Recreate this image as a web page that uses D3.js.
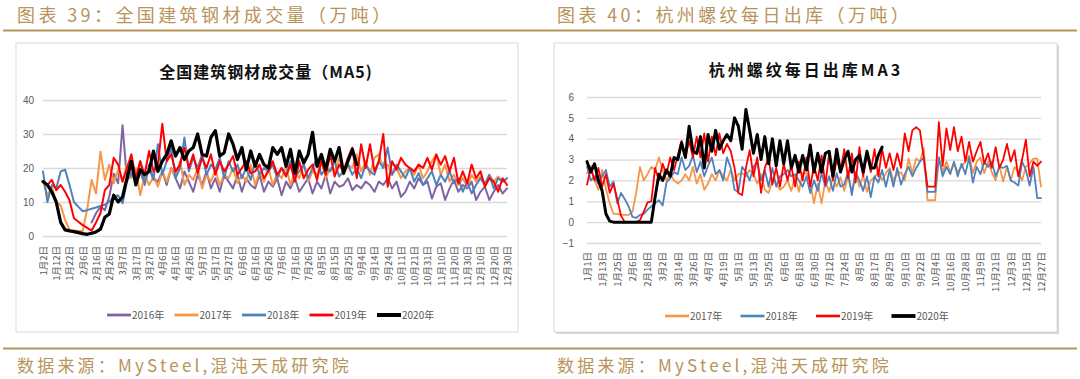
<!DOCTYPE html>
<html>
<head>
<meta charset="utf-8">
<script src="https://cdnjs.cloudflare.com/ajax/libs/d3/7.8.5/d3.min.js"></script>
<style>
  body { margin: 0; background: #fff; }
  svg text { font-family: "Noto Sans CJK SC", "Liberation Sans", sans-serif; }
</style>
</head>
<body>
<svg id="chart" width="1080" height="379"></svg>
<script>
// ---------- data: left chart (全国建筑钢材成交量 MA5), 3 points per label step ----------
var leftLabels = ["1月2日","1月12日","1月22日","2月6日","2月16日","2月26日","3月7日","3月17日","3月27日",
  "4月6日","4月16日","4月26日","5月7日","5月17日","5月27日","6月6日","6月16日","6月26日","7月6日",
  "7月16日","7月26日","8月5日","8月15日","8月25日","9月4日","9月14日","9月24日","10月11日","10月21日",
  "10月31日","11月10日","11月20日","11月30日","12月10日","12月20日","12月30日"];
var leftTicks = [0, 10, 20, 30, 40];

var left2016 = [null,null,null,null,null,null,null,null,null,null,
  null,4,6.7,8.6,7.6,11.6,18.4,15.5,32.6,16.5,
  20,17,19,15,21,17,16,19,15,20,
  17,14,19,16,13,18,15,19,14,17,
  13,18,16,14,18,13,17,15,14,18,
  13,16,14.5,17,12,16,14,17,13,15,
  17,12.5,16,14,18,12.5,16,14.5,15,17,
  13.5,15,14,16,15,13,16,15,17,14,
  16,11.5,13,16,14,17,15,16,11,14.5,
  15.5,10.6,14,16.5,13,15,14,16,10.6,13,
  14.5,10.6,13,15,12.5,14];
var left2017 = [16,12,14.5,10,9,4.7,1.8,1.6,1.5,1.5,
  8,16.5,12.5,24.8,16.5,21,15.5,19.5,16,21,
  17,20,12,18,15,17.5,14.5,19,16,20,
  17,22,15,18,16.5,20,14,18,16,19.5,
  15,18,17,20,15.5,18,16,21,15,19,
  16,20,15,18.5,17,20.5,15,19,17,21,
  16,19,18,22,17,20,19,23,18,21,
  20,24,19,22,18,23,24,20,21,18,
  20,17,19,20,18,21,17,19,22,24,
  18,21,16,18,15,17,14.5,18,16,17.5,
  15.5,18,16,17.5,16,17];
var left2018 = [19,10,15,14,19,19.5,15,10,8.6,7.3,
  7.6,8,8.4,8.8,9.2,10,11.5,12,9.6,16,
  18.5,16,22,15.5,20,16.5,27,18,22,26,
  17,20,29,19,23,20,24,18,21,19.5,
  23,17,22,19,21,17,20,16.5,22,18,
  20,19,21,17,20,18,22,17.5,19,21,
  17,20,23,18,20,19,22,17.5,19,21,
  18,20,17,21,19,18,22,20,26,18,
  21,19,17,20,16,18.5,15,17,19,15,
  18,16,19,15.5,17,13,16,12.5,15,17,
  15,18,14,17,16,17];
var left2019 = [16,15,16.5,13.5,15,13,10.5,5.2,4.2,3.2,
  2.4,1.6,4,6.7,13.5,15,23,21,16,20,
  24,17,22,18,25,19,21,33,22,24,
  19,21,26,20,24,18.5,23,20,24,18,
  22,19,21,23.5,18,20,22,18.5,19,21,
  17,19,22,18,20,17.5,21,16,22,17,
  19.5,21,16.5,22,18,24,17.5,21,19,23,
  26,17,27,20,27,19,22,30,14.5,22,
  19.5,23,21,20,19,21,20,23,19.5,24,
  21,23.5,19,23,15.5,19,15.5,21,17,19,
  14.5,17,16,13,17,15];
var left2020 = [16,15,13,10,4,1.8,1.5,1.3,1,0.7,
  0.5,0.8,1.2,2,5.5,6.5,12,10,11.5,17,
  22,15,19.5,18,19,25,19,22,24,28,
  23.5,26,22.5,25,26,30,24,23.5,29,31,
  23.5,24.5,30,27,22.5,26,19.5,25,20.5,24,
  21,20,26,24,26,20.5,25.5,18.5,25,21.5,
  24,30.5,20.5,24,19.5,25.5,22,26,18.5,22,
  25.5,21];

// ---------- data: right chart (杭州螺纹每日出库 MA3), 4 points per label step ----------
var rightLabels = ["1月1日","1月13日","1月25日","2月6日","2月18日","3月2日","3月14日","3月26日",
  "4月7日","4月19日","5月1日","5月13日","5月25日","6月6日","6月18日","6月30日","7月12日","7月24日",
  "8月5日","8月17日","8月29日","9月10日","9月22日","10月4日","10月16日","10月28日","11月9日",
  "11月21日","12月3日","12月15日","12月27日"];
var rightTicks = [-1, 0, 1, 2, 3, 4, 5, 6];

var right2017 = [2.35,2.7,2.0,1.55,2.5,1.6,0.9,0.4,0.4,0.35,
  0.35,0.35,0.5,1.4,2.65,2.0,2.3,2.65,2.5,3.1,
  2.5,2.0,2.3,2.0,1.85,2.0,2.3,2.0,2.65,1.85,
  2.3,1.55,1.85,2.3,2.0,2.5,2.2,2.0,2.5,2.0,
  2.3,2.35,2.2,2.5,2.3,1.85,2.3,1.55,1.4,2.0,
  1.85,1.55,1.7,2.0,1.5,2.2,1.45,2.35,2.35,1.9,
  0.9,1.85,0.9,2.0,1.45,2.15,1.7,2.15,1.5,2.2,
  1.4,2.4,1.7,2.25,1.45,2.0,2.15,2.4,2.0,2.35,
  2.6,2.0,2.3,2.4,2.0,3.05,2.35,3.05,2.9,3.55,
  1.05,1.05,1.05,3.1,2.4,2.9,2.4,2.8,2.4,2.65,
  2.9,3.2,2.35,2.9,3.1,2.35,2.9,2.4,2.0,2.7,
  1.95,2.65,2.0,2.65,2.4,2.0,2.65,2.8,3.05,3.05,
  1.7];
var right2018 = [2.65,2.0,2.2,1.85,2.2,2.5,1.7,1.95,0.9,1.4,
  1.1,0.75,0.25,0.2,0.35,0.4,0.6,0.75,0.9,1.05,
  0.8,1.9,2.1,2.4,2.3,3.1,2.5,2.7,3.2,2.4,
  2.9,2.2,2.7,3.1,2.3,2.5,2.0,3.1,2.6,1.55,
  1.45,2.65,2.4,2.0,2.65,2.9,2.0,2.5,1.7,2.6,
  1.7,2.2,2.3,2.5,2.2,2.3,2.0,1.7,2.2,1.4,
  2.0,1.5,2.35,1.7,2.2,1.5,2.35,1.7,1.8,2.4,
  1.3,2.4,2.0,1.5,2.2,1.2,2.2,1.9,2.5,1.7,
  2.5,1.7,2.6,1.8,2.3,2.65,2.2,2.6,2.9,3.1,
  1.45,1.45,1.45,3.1,2.2,2.65,2.3,2.9,2.2,2.8,
  2.3,3.1,1.9,2.65,2.3,2.9,2.65,2.9,2.2,2.65,
  2.6,2.7,2.0,1.9,1.75,2.9,2.5,1.75,2.65,1.15,
  1.15];
var right2019 = [1.8,2.6,2.0,2.6,1.7,2.3,1.4,1.85,1.1,0.3,
  0,0,0,0,0.1,0.5,0.95,1.0,2.6,2.0,
  2.8,2.3,3.1,2.5,3.2,3.9,3.1,3.9,3.1,4.1,
  3.1,4.25,2.9,4.1,3.2,4.25,3.3,3.75,3.4,2.6,
  1.4,1.3,2.6,3.45,2.2,3.1,1.4,2.6,3.1,1.8,
  2.6,1.7,2.8,2.0,2.7,1.7,2.9,2.0,3.1,1.7,
  2.7,2.0,3.2,1.8,3.3,2.0,3.0,2.4,3.5,2.1,
  3.3,1.9,3.6,2.2,3.3,2.4,3.5,2.2,3.5,2.6,
  3.3,2.5,3.3,2.6,4.25,3.4,4.4,4.55,4.4,3.1,
  1.7,1.7,1.7,4.8,2.7,4.5,3.45,4.55,3.4,4.1,
  2.9,3.85,2.9,3.4,3.85,2.8,3.3,2.6,3.6,2.6,
  3.0,3.75,2.9,3.45,2.2,3.0,3.95,2.2,2.9,2.7,
  2.9];
var right2020 = [2.9,2.4,2.8,2.0,1.5,0.4,0.05,0,0,0,
  0,0,0,0,0,0,0,0,1.2,2.3,
  2.0,2.5,2.2,3.1,3.0,3.8,3.1,4.6,3.4,3.3,
  4.1,2.6,4.2,3.4,4.4,3.5,3.9,4.2,3.9,5.0,
  4.6,3.5,5.4,4.4,3.3,4.2,3.0,4.1,2.8,4.0,
  2.7,3.9,2.8,3.9,2.6,3.2,2.4,3.2,2.5,3.7,
  2.4,3.3,2.4,3.3,3.4,2.2,3.5,2.4,3.0,3.4,
  2.4,3.0,3.2,2.4,3.4,2.6,2.6,3.2,3.6];

var GOLD = "#b8935a";
var AXIS_TEXT = "#595959";
var GRID = "#d9d9d9";

var svg = d3.select("#chart");

// page frame: captions, gold rules, sources
svg.append("line").attr("x1", 3).attr("x2", 1077).attr("y1", 30.5).attr("y2", 30.5)
   .attr("stroke", GOLD).attr("stroke-width", 2);
svg.append("line").attr("x1", 3).attr("x2", 1077).attr("y1", 348.5).attr("y2", 348.5)
   .attr("stroke", GOLD).attr("stroke-width", 2);

[{x: 17, t: "图表 39：全国建筑钢材成交量（万吨）"}, {x: 557, t: "图表 40：杭州螺纹每日出库（万吨）"}]
  .forEach(function(h){
    svg.append("text").attr("x", h.x).attr("y", 22)
       .attr("fill", GOLD).style("font-size", "18px").style("letter-spacing", "3.4px")
       .text(h.t);
  });
[17, 557].forEach(function(x){
  svg.append("text").attr("x", x).attr("y", 372)
     .attr("fill", GOLD).style("font-size", "17px").style("letter-spacing", "3.2px")
     .text("数据来源：MySteel,混沌天成研究院");
});

/**
 * Draws one line chart panel with its frame, title, grid, axes and legend.
 */
function drawPanel(cfg){
  var g = svg.append("g");

  if (cfg.shadow){
    g.append("rect").attr("x", cfg.box[0] + 2).attr("y", cfg.box[1] + 2)
     .attr("width", cfg.box[2] - cfg.box[0]).attr("height", cfg.box[3] - cfg.box[1])
     .attr("fill", "#d6d6d6");
  }
  g.append("rect").attr("x", cfg.box[0]).attr("y", cfg.box[1])
   .attr("width", cfg.box[2] - cfg.box[0]).attr("height", cfg.box[3] - cfg.box[1])
   .attr("fill", "#fff").attr("stroke", GRID).attr("stroke-width", 1);

  g.append("text").attr("x", cfg.titleX).attr("y", cfg.titleY)
   .attr("text-anchor", "middle").attr("fill", "#111")
   .style("font-size", "16px").style("font-weight", "bold")
   .style("letter-spacing", cfg.titleSpacing + "px")
   .text(cfg.title);

  var n = cfg.series[0].values.length;
  var x = d3.scaleLinear().domain([0, n - 1]).range([cfg.plot[0], cfg.plot[1]]);
  var y = d3.scaleLinear().domain(cfg.yDomain).range([cfg.plot[3], cfg.plot[2]]);

  // horizontal gridlines + y labels
  var yAxis = g.append("g").attr("transform", "translate(" + cfg.plot[0] + ",0)")
     .call(d3.axisLeft(y).tickValues(cfg.yTicks).tickSize(-(cfg.plot[1] - cfg.plot[0]))
       .tickPadding(cfg.yPad).tickFormat(d3.format("d")));
  yAxis.select(".domain").remove();
  yAxis.selectAll("line").attr("stroke", GRID).attr("stroke-width", 1.3);
  yAxis.selectAll("text").attr("fill", AXIS_TEXT).style("font-size", "10px")
       .style("font-family", "Liberation Sans, sans-serif");

  // category labels, rotated
  var step = cfg.step;
  var xAxis = g.append("g").attr("transform", "translate(0," + cfg.labelTop + ")")
     .call(d3.axisBottom(x).tickValues(cfg.labels.map(function(d, i){ return i * step; }))
       .tickSize(0).tickFormat(function(d){ return cfg.labels[d / step]; }));
  xAxis.select(".domain").remove();
  xAxis.selectAll("text")
       .attr("transform", "rotate(-90)").attr("x", 0).attr("y", 0).attr("dy", "0.35em")
       .attr("text-anchor", "end").attr("fill", AXIS_TEXT).style("font-size", "9.5px");

  var line = d3.line()
      .defined(function(d){ return d != null; })
      .x(function(d, i){ return x(i); })
      .y(function(d){ return y(d); });

  cfg.series.forEach(function(s){
    g.append("path").datum(s.values)
     .attr("fill", "none").attr("stroke", s.color).attr("stroke-width", s.width)
     .attr("stroke-linejoin", "round").attr("stroke-linecap", "round")
     .attr("d", line);
  });

  // legend
  cfg.series.forEach(function(s, i){
    var lx = cfg.legendX + i * cfg.legendGap;
    g.append("line").attr("x1", lx).attr("x2", lx + 24)
     .attr("y1", cfg.legendY).attr("y2", cfg.legendY)
     .attr("stroke", s.color).attr("stroke-width", s.width + 0.8);
    g.append("text").attr("x", lx + 25).attr("y", cfg.legendY).attr("dy", "0.35em")
     .attr("fill", AXIS_TEXT).style("font-size", "10px").text(s.name);
  });
}

drawPanel({
  box: [16, 43, 518, 332],
  plot: [43, 507, 100, 236],
  yDomain: [0, 40], yTicks: leftTicks, yPad: 9,
  title: "全国建筑钢材成交量（MA5)", titleX: 266, titleY: 78, titleSpacing: 1,
  labels: leftLabels, step: 3, labelTop: 246,
  legendX: 107, legendGap: 67.5, legendY: 315,
  series: [
    {name: "2016年", values: left2016, color: "#8064a2", width: 2},
    {name: "2017年", values: left2017, color: "#f79646", width: 2},
    {name: "2018年", values: left2018, color: "#4f81bd", width: 2},
    {name: "2019年", values: left2019, color: "#ff0000", width: 2},
    {name: "2020年", values: left2020, color: "#000000", width: 3.2}
  ]
});

drawPanel({
  box: [554, 43, 1057, 332], shadow: true,
  plot: [587, 1041, 97, 243],
  yDomain: [-1, 6], yTicks: rightTicks, yPad: 13,
  title: "杭州螺纹每日出库MA3", titleX: 806, titleY: 76, titleSpacing: 3,
  labels: rightLabels, step: 4, labelTop: 252,
  legendX: 665, legendGap: 75.5, legendY: 316,
  series: [
    {name: "2017年", values: right2017, color: "#f79646", width: 1.8},
    {name: "2018年", values: right2018, color: "#4f81bd", width: 1.8},
    {name: "2019年", values: right2019, color: "#ff0000", width: 1.8},
    {name: "2020年", values: right2020, color: "#000000", width: 3}
  ]
});
</script>
</body>
</html>
